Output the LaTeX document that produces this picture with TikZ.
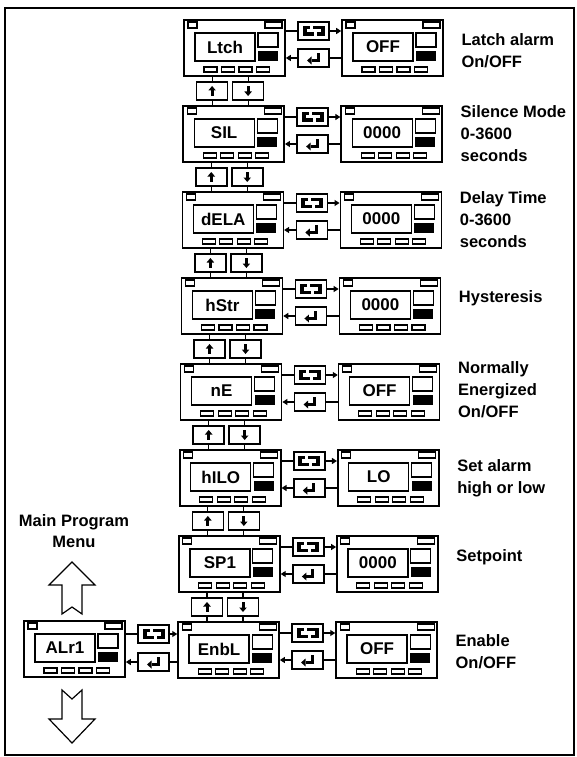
\documentclass[tikz,border=0pt]{standalone}
\usepackage{fontspec}
\setmainfont{Liberation Sans}
\usetikzlibrary{arrows.meta,calc,positioning}

% one controller front panel, top left corner at (#2,#3)
\newcommand{\panel}[4]{%
  \begin{scope}[shift={(#2,#3)}]
    \node[unit] (#1) at (50.5,28) {};
    \draw[part] (4,2) rectangle (13,8);
    \draw[part] (81,2) rectangle (98,8);
    \node[screen] (#1disp) at (41,27) {#4};
    \draw[part] (74,13) rectangle (94,27);
    \fill (74,31) rectangle (94,41);
    \foreach \k in {0,...,3}
      \draw[part] ({20+17.5*\k},47) rectangle ++(13,5);
  \end{scope}}

% key symbols
\newcommand{\cycleicon}[1]{%
  \begin{scope}[shift={(#1.center)}]
    \fill (-11,-5) rectangle (11,5);
    \fill[white] (-7,-2) rectangle (7,1.5);
    \fill[white] (0,1.5) rectangle (3,5);
    \fill[white] (-4,-5) rectangle (-1,-2);
  \end{scope}}
\newcommand{\entericon}[1]{%
  \begin{scope}[shift={(#1.center)}]
    \fill (3,-5) rectangle (6,4);
    \fill (-2,1) rectangle (6,4);
    \fill (-2,-1.5) -- (-2,6.5) -- (-6.5,2.5) -- cycle;
  \end{scope}}
\newcommand{\upicon}[1]{%
  \begin{scope}[shift={(#1.center)}]
    \fill (-1.5,5) rectangle (1.5,-1);
    \fill (-3.8,-0.5) -- (3.8,-0.5) -- (0,-5) -- cycle;
  \end{scope}}
\newcommand{\downicon}[1]{%
  \begin{scope}[shift={(#1.center)}]
    \fill (-1.5,-5) rectangle (1.5,1);
    \fill (-3.8,0.5) -- (3.8,0.5) -- (0,5) -- cycle;
  \end{scope}}

% one menu row: row, menu reading, setting, note, note offset
\newcommand{\menurow}[5]{%
  \pgfmathsetmacro{\rowx}{-0.85*#1}
  \pgfmathsetmacro{\rowy}{20+86*#1}
  \panel{menu#1}{184+\rowx}{\rowy}{#2}
  \panel{set#1}{342+\rowx}{\rowy}{#3}
  \node[key] (cyc#1) at (313.5+\rowx,\rowy+11) {};
  \cycleicon{cyc#1}
  \node[key] (ent#1) at (313.5+\rowx,\rowy+38) {};
  \entericon{ent#1}
  \draw[wire] (menu#1.east |- cyc#1) -- (cyc#1);
  \draw[arr] (cyc#1) -- (set#1.west |- cyc#1);
  \draw[wire] (set#1.west |- ent#1) -- (ent#1);
  \draw[arr] (ent#1) -- (menu#1.east |- ent#1);
  \node[note] (note#1) at (458+\rowx,\rowy+#5) {#4};}

% up/down keys between two rows
\newcommand{\stepkeys}[2]{%
  \pgfmathsetmacro{\rowx}{-0.85*#1-0.4}
  \pgfmathsetmacro{\rowy}{20+86*#1}
  \node[key] (up#1) at (212.5+\rowx,\rowy+71) {};
  \upicon{up#1}
  \node[key] (dn#1) at (248.5+\rowx,\rowy+71) {};
  \downicon{dn#1}
  \draw[wire] (up#1) -- (menu#1.south -| up#1);
  \draw[wire] (up#1) -- (menu#2.north -| up#1);
  \draw[wire] (dn#1) -- (menu#1.south -| dn#1);
  \draw[wire] (dn#1) -- (menu#2.north -| dn#1);}

\begin{document}
\begin{tikzpicture}[x=1pt,y=-1pt,
    unit/.style={draw,line width=1.6pt,minimum width=101pt,minimum height=56pt,inner sep=0pt},
    screen/.style={draw,line width=1.2pt,minimum width=60pt,minimum height=28pt,inner sep=0pt,
    font=\fontsize{17}{17}\selectfont\bfseries},
    part/.style={line width=1.1pt},
    key/.style={draw,line width=1.5pt,minimum width=31pt,minimum height=18pt,inner sep=0pt},
    wire/.style={line width=1.2pt},
    arr/.style={wire,-{Triangle[length=5pt,width=6pt]}},
    note/.style={anchor=west,align=left,font=\fontsize{16.5}{22}\selectfont\bfseries},
    bigarrow/.style={draw,line width=1.2pt,line join=miter}]
  \useasboundingbox (0,0) rectangle (576,757);
  \draw[line width=2pt] (5,8) rectangle (574,755);

  \menurow{0}{Ltch}{OFF}{Latch alarm\\On/OFF}{31}
  \menurow{1}{SIL}{0000}{Silence Mode\\0-3600\\seconds}{28}
  \menurow{2}{dELA}{0000}{Delay Time\\0-3600\\seconds}{28}
  \menurow{3}{hStr}{0000}{Hysteresis}{20}
  \menurow{4}{nE}{OFF}{Normally\\Energized\\On/OFF}{26}
  \menurow{5}{hILO}{LO}{Set alarm\\high or low}{28}
  \menurow{6}{SP1}{0000}{Setpoint}{21}
  \menurow{7}{EnbL}{OFF}{Enable\\On/OFF}{30}

  \stepkeys{0}{1}
  \stepkeys{1}{2}
  \stepkeys{2}{3}
  \stepkeys{3}{4}
  \stepkeys{4}{5}
  \stepkeys{5}{6}
  \stepkeys{6}{7}

  % alarm entry in the main program menu
  \panel{alarm}{24}{621}{ALr1}
  \node[key] (cycA) at (153.5,634) {};
  \cycleicon{cycA}
  \node[key] (entA) at (153.5,662) {};
  \entericon{entA}
  \draw[wire] (alarm.east |- cycA) -- (cycA);
  \draw[arr] (cycA) -- (menu7.west |- cycA);
  \draw[wire] (menu7.west |- entA) -- (entA);
  \draw[arr] (entA) -- (alarm.east |- entA);

  \node[font=\fontsize{16.5}{21}\selectfont\bfseries,align=center] (mainmenu) at (74,531)
    {Main Program\\Menu};
  \draw[bigarrow] (72,562) -- (95,585) -- (82,585) -- (82,614) -- (72,607) -- (62,614)
    -- (62,585) -- (49,585) -- cycle;
  \draw[bigarrow] (62,690) -- (72,699) -- (82,690) -- (82,719) -- (95,719) -- (72,743)
    -- (49,719) -- (62,719) -- cycle;
\end{tikzpicture}
\end{document}
